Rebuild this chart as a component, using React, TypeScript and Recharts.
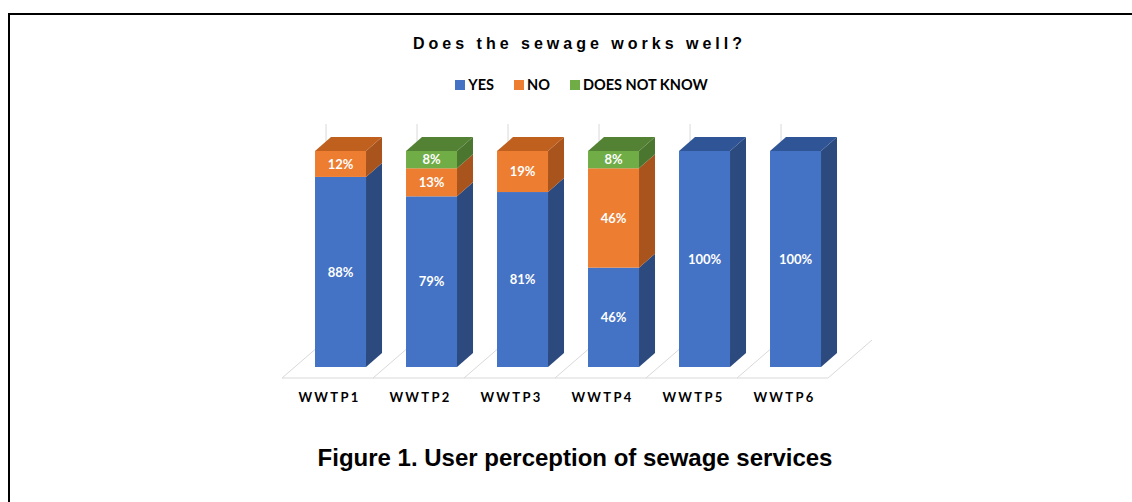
import React from 'react'
import { BarChart, Bar, XAxis, YAxis, Legend, LabelList } from 'recharts'

const categories = ['WWTP1', 'WWTP2', 'WWTP3', 'WWTP4', 'WWTP5', 'WWTP6']
const yesValues = [88, 79, 81, 46, 100, 100]
const noValues = [12, 13, 19, 46, 0, 0]
const dontKnowValues = [0, 8, 0, 8, 0, 0]
const seriesNames = ['YES', 'NO', 'DOES NOT KNOW']
const seriesKeys = ['yes', 'no', 'dnk']

const data = categories.map((name, i) => ({
  name,
  yes: yesValues[i],
  no: noValues[i],
  dnk: dontKnowValues[i],
}))

// front / right side / top colours of each series
const faces: Record<string, { front: string; side: string; top: string }> = {
  yes: { front: '#4472C4', side: '#2C4A7E', top: '#2F5597' },
  no: { front: '#ED7D31', side: '#A9541D', top: '#C0601F' },
  dnk: { front: '#70AD47', side: '#4B7630', top: '#548235' },
}

const W = 1132
const H = 502
const MARGIN = { top: 151, right: 291, bottom: 105, left: 295 }
const PLOT_W = W - MARGIN.left - MARGIN.right
const DX = 16 // bar depth
const DY = 14
const FLOOR_FRONT = { x: -13, y: 11 }
const BACK_WALL = { x: 31, y: -27 }
const GRID = '#D9D9D9'
const LABEL_FONT = 'Lato, "Open Sans", sans-serif'

function Bar3D(props: any) {
  const { x, y, width, height, payload, index, dataKey } = props
  const key = dataKey as string
  const c = faces[key]
  const pieces: React.ReactNode[] = []

  if (key === 'yes') {
    // floor and back wall grid, built from this category's band
    const bandW = PLOT_W / categories.length
    const bandLeft = x + width / 2 - bandW / 2
    const baseY = y + height
    const topY = baseY - (100 * height) / payload.yes
    const fy = baseY + FLOOR_FRONT.y
    const by = baseY + BACK_WALL.y
    pieces.push(
      <line key="fe" x1={bandLeft + FLOOR_FRONT.x} y1={fy} x2={bandLeft + bandW + FLOOR_FRONT.x} y2={fy} stroke={GRID} />,
      <line key="fd" x1={bandLeft + FLOOR_FRONT.x} y1={fy} x2={bandLeft + BACK_WALL.x} y2={by} stroke={GRID} />,
      <line key="bw" x1={bandLeft + BACK_WALL.x} y1={by} x2={bandLeft + BACK_WALL.x} y2={topY + BACK_WALL.y} stroke={GRID} />,
    )
    if (index === categories.length - 1) {
      pieces.push(
        <line key="fr" x1={bandLeft + bandW + FLOOR_FRONT.x} y1={fy} x2={bandLeft + bandW + BACK_WALL.x} y2={by} stroke={GRID} />,
      )
    }
  }

  if (height > 0) {
    const after = seriesKeys.slice(seriesKeys.indexOf(key) + 1)
    const isTop = after.every((k) => !payload[k])
    pieces.push(
      <polygon
        key="side"
        points={`${x + width},${y} ${x + width + DX},${y - DY} ${x + width + DX},${y + height - DY} ${x + width},${y + height}`}
        fill={c.side}
      />,
      <rect key="front" x={x} y={y} width={width} height={height} fill={c.front} />,
    )
    if (isTop) {
      pieces.push(
        <polygon
          key="top"
          points={`${x},${y} ${x + width},${y} ${x + width + DX},${y - DY} ${x + DX},${y - DY}`}
          fill={c.top}
        />,
      )
    }
  }
  return <g>{pieces}</g>
}

function CategoryTick({ x, y, payload }: any) {
  return (
    <text
      x={x + FLOOR_FRONT.x + 2}
      y={y + 35}
      textAnchor="middle"
      fontFamily={LABEL_FONT}
      fontWeight={700}
      fontSize={13}
      letterSpacing={2.3}
      fill="#000"
    >
      {payload.value}
    </text>
  )
}

function LegendContent({ payload }: any) {
  const items = [...(payload || [])].sort(
    (a: any, b: any) => seriesNames.indexOf(a.value) - seriesNames.indexOf(b.value),
  )
  return (
    <div
      style={{
        display: 'flex',
        justifyContent: 'center',
        paddingLeft: 31,
        fontFamily: LABEL_FONT,
        fontWeight: 700,
        fontSize: 14.5,
        lineHeight: '14px',
        color: '#000',
      }}
    >
      {items.map((p: any, i: number) => (
        <span key={i} style={{ marginRight: i < items.length - 1 ? 20 : 0, whiteSpace: 'nowrap' }}>
          <span
            style={{
              display: 'inline-block',
              width: 10,
              height: 10,
              background: p.color,
              marginRight: 3,
              verticalAlign: 'baseline',
            }}
          />
          {p.value}
        </span>
      ))}
    </div>
  )
}

const pct = (v: any) => (v ? `${v}%` : '')

export default function App() {
  return (
    <div style={{ position: 'relative', width: W, height: H, background: '#fff', overflow: 'hidden' }}>
      <style>{'body{margin:0}'}</style>
      <div
        style={{
          position: 'absolute',
          left: 8,
          top: 13,
          right: 0,
          bottom: 0,
          borderTop: '2px solid #000',
          borderLeft: '2px solid #000',
        }}
      />
      <svg width={W} height={H} style={{ position: 'absolute', left: 0, top: 0 }}>
        <text
          x={579.5}
          y={49.3}
          textAnchor="middle"
          fontFamily='"Liberation Sans", Arial, sans-serif'
          fontWeight={700}
          fontSize={16}
          letterSpacing={4}
          fill="#000"
        >
          Does the sewage works well?
        </text>
        <text
          x={575}
          y={466}
          textAnchor="middle"
          fontFamily='"Liberation Sans", Arial, sans-serif'
          fontWeight={700}
          fontSize={24}
          fill="#000"
        >
          Figure 1. User perception of sewage services
        </text>
      </svg>
      <div style={{ position: 'absolute', left: 0, top: 0 }}>
        <BarChart width={W} height={H} data={data} margin={MARGIN} barCategoryGap="22%">
          <XAxis
            dataKey="name"
            height={30}
            axisLine={false}
            tickLine={false}
            tickSize={0}
            tickMargin={0}
            interval={0}
            tick={<CategoryTick />}
          />
          <YAxis hide domain={[0, 100]} />
          <Legend
            verticalAlign="middle"
            align="center"
            layout="horizontal"
            wrapperStyle={{ top: 78, left: 0, width: W }}
            content={<LegendContent />}
          />
          {seriesKeys.map((k, i) => (
            <Bar
              key={k}
              dataKey={k}
              name={seriesNames[i]}
              stackId="a"
              fill={faces[k].front}
              isAnimationActive={false}
              shape={(p: any) => <Bar3D {...p} dataKey={k} />}
            >
              <LabelList
                dataKey={k}
                position="center"
                formatter={pct}
                fill="#fff"
                fontFamily={LABEL_FONT}
                fontWeight={700}
                fontSize={13}
              />
            </Bar>
          ))}
        </BarChart>
      </div>
    </div>
  )
}
